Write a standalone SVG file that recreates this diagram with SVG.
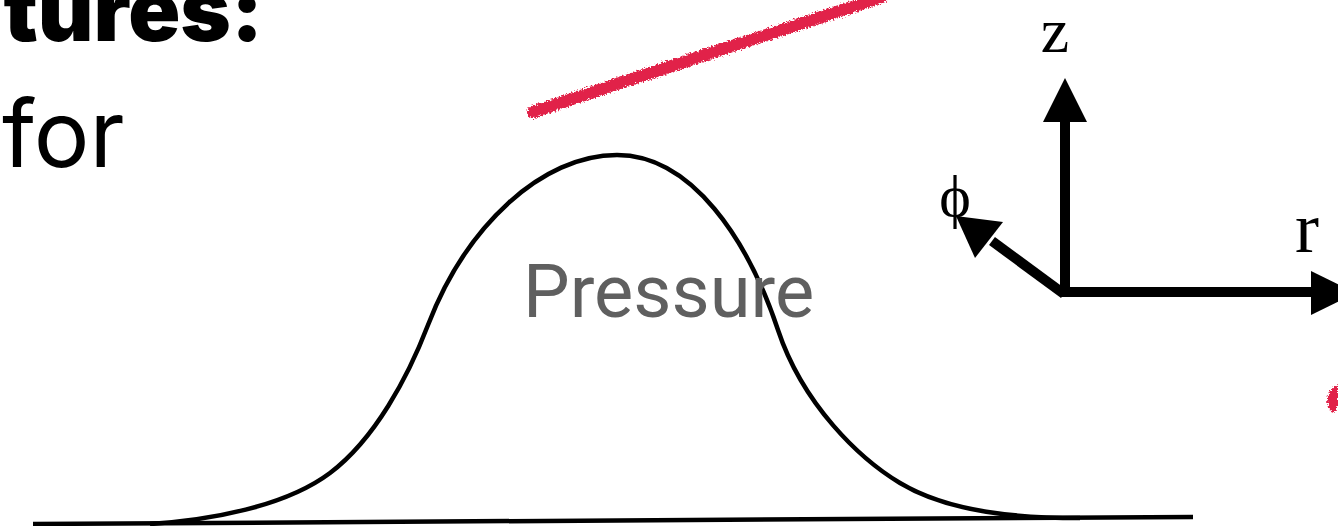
<svg xmlns="http://www.w3.org/2000/svg" width="1338" height="526" viewBox="0 0 1338 526">
  <defs>
    <style>
      .title { font-family: Inter, "Liberation Sans", sans-serif; fill: #000; }
      .axis-label { font-family: "Liberation Serif", "DejaVu Serif", serif; fill: #000; }
      .shaft { stroke: #000; stroke-width: 10; fill: none; stroke-linecap: butt; }
      .head { fill: #000; stroke: none; }
      .curve { stroke: #000; stroke-width: 4.5; fill: none; }
      .crayon { stroke: #e1224a; fill: none; stroke-linecap: round; }
    </style>
    <filter id="rough" x="-10%" y="-50%" width="120%" height="200%">
      <feTurbulence type="fractalNoise" baseFrequency="0.6" numOctaves="2" seed="3" result="n"/>
      <feDisplacementMap in="SourceGraphic" in2="n" scale="6" xChannelSelector="R" yChannelSelector="G"/>
    </filter>
  </defs>
  <rect width="1338" height="526" fill="#fff"/>

  <g id="heading">
    <text class="title" x="263" y="41" font-size="86" font-weight="900" text-anchor="end">tures:</text>
    <text class="title" x="2" y="167" font-size="93" font-weight="400">for</text>
  </g>

  <g id="red-marks" filter="url(#rough)">
    <path class="crayon" stroke-width="12" d="M533,112 L620,83 L720,50 L800,24 L882,-3"/>
    <path fill="#e1224a" d="M1333,387 L1338,384 L1338,405 L1334,413 L1330,410 L1327,402 L1328,395 Z"/>
  </g>

  <g id="pressure-curve">
    <path class="curve" d="M150,524 C210,520 285,506.75 330,473 C375,439 408,377 428,325 C466,226 542,155 617,155 C692,155 748,240 778,330 C803,405 860,459 900,483 C950,513 1020,518 1080,518"/>
    <text x="523" y="317" font-family="Roboto, 'Liberation Sans', sans-serif" font-size="74" fill="#5f5f5f">Pressure</text>
  </g>

  <g id="baseline">
    <path d="M33,524 L1193,517" stroke="#000" stroke-width="4.5" fill="none"/>
  </g>

  <g id="axes">
    <line class="shaft" x1="1065" y1="297" x2="1065" y2="118"/>
    <polygon class="head" points="1065,78 1087,122 1043,122"/>
    <line class="shaft" x1="1060" y1="292" x2="1314" y2="292"/>
    <polygon class="head" points="1356,293 1311,315 1311,271"/>
    <line class="shaft" stroke-width="9.5" x1="1064" y1="294" x2="992" y2="241"/>
    <polygon class="head" points="956,216 1003,222 975,258"/>
  </g>

  <g id="axis-labels">
    <text class="axis-label" x="1055" y="52" font-size="64" text-anchor="middle">z</text>
    <text class="axis-label" x="1307" y="252" font-size="72" text-anchor="middle">r</text>
    <text class="axis-label" x="955" y="216" font-size="60" text-anchor="middle">ϕ</text>
  </g>
</svg>
